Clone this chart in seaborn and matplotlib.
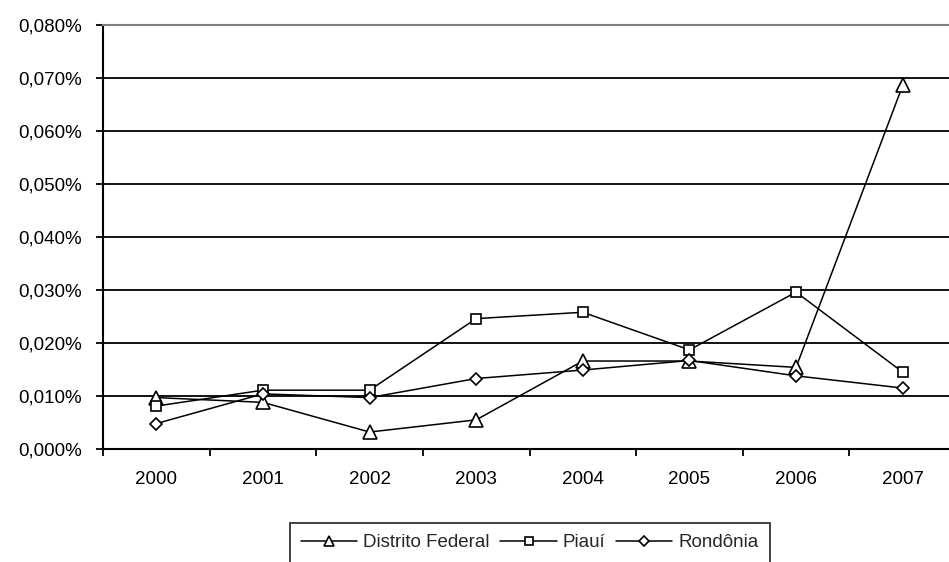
import matplotlib
matplotlib.use("Agg")
import matplotlib.pyplot as plt
import matplotlib.ticker as mticker
import numpy as np
import pandas as pd
import seaborn as sns

# Share of each state (in %) per year
anos = ["2000", "2001", "2002", "2003", "2004", "2005", "2006", "2007"]
estados = ["Distrito Federal", "Piauí", "Rondônia"]
distrito_federal = [0.0097, 0.0088, 0.0032, 0.0055, 0.0166, 0.0166, 0.0154, 0.0686]
piaui = [0.0081, 0.0111, 0.0111, 0.0246, 0.0258, 0.0187, 0.0296, 0.0145]
rondonia = [0.0048, 0.0104, 0.0097, 0.0133, 0.0149, 0.0167, 0.0138, 0.0115]
yticks = [0.0, 0.01, 0.02, 0.03, 0.04, 0.05, 0.06, 0.07, 0.08]

series = {"Distrito Federal": distrito_federal, "Piauí": piaui, "Rondônia": rondonia}
df = pd.DataFrame(
    [(i, v, nome) for nome in estados for i, v in enumerate(series[nome])],
    columns=["pos", "valor", "estado"],
)

sns.set_theme(style="white")
plt.rcParams["font.family"] = ["Liberation Sans", "DejaVu Sans"]
FS = 13.5

W, H = 949, 562
fig = plt.figure(figsize=(W / 100, H / 100), dpi=100)
left, right, top, bottom = 103, 956, 25, 449
ax = fig.add_axes([left / W, 1 - bottom / H, (right - left) / W, (bottom - top) / H])

sns.lineplot(
    data=df, x="pos", y="valor", hue="estado", style="estado",
    hue_order=estados, style_order=estados,
    palette=["black"] * 3, markers=["^", "s", "D"], dashes=False,
    linewidth=1.1, markersize=9, mfc="white", mec="black", mew=1.2,
    legend=False, ax=ax, zorder=3,
)
sizes = {0: 9.5, 1: 7.5, 2: 6.5}
for i, ln in enumerate(ax.get_lines()[:3]):
    ln.set_markerfacecolor("white")
    ln.set_markeredgecolor("black")
    ln.set_markersize(sizes[i])

ax.set_xlim(-0.5, len(anos) - 0.5)
ax.set_ylim(0, 0.08)

# horizontal grid lines
for y in yticks[1:-1]:
    ax.axhline(y, color="black", lw=1.3, zorder=1)

ax.set_yticks(yticks)
ax.yaxis.set_major_formatter(
    mticker.FuncFormatter(lambda v, _: f"{v:.3f}".replace(".", ",") + "%")
)
ax.set_xticks(np.arange(len(anos) + 1) - 0.5)
ax.set_xticklabels([])
ax.set_xticks(np.arange(len(anos)), minor=True)
ax.set_xticklabels(anos, minor=True)
ax.tick_params(axis="x", which="major", direction="out", length=5, width=1.3,
               color="black", bottom=True)
ax.tick_params(axis="x", which="minor", length=0, pad=16, labelsize=FS)
ax.tick_params(axis="y", direction="out", length=5, width=1.3, color="black",
               left=True, pad=10, labelsize=FS)
for lab in ax.get_yticklabels() + ax.get_xticklabels(minor=True):
    lab.set_color("black")
ax.set_xlabel("")
ax.set_ylabel("")

for s in ["left", "bottom"]:
    ax.spines[s].set_color("black")
    ax.spines[s].set_linewidth(1.5)
ax.spines["top"].set_color("#808080")
ax.spines["top"].set_linewidth(1.5)
ax.spines["right"].set_visible(False)

leg = ax.legend(
    ax.get_lines()[:3], estados, ncol=3,
    loc="upper center", bbox_to_anchor=(529.5 / W, 1 - 523 / H),
    bbox_transform=fig.transFigure, frameon=True, fancybox=False,
    edgecolor="black", fontsize=FS, handlelength=3.0, handletextpad=0.3,
    columnspacing=0.6, borderpad=0.6, borderaxespad=0,
)
leg.get_frame().set_linewidth(1.3)
leg_sizes = [6.5, 5.5, 5.0]
for h, ms in zip(leg.legend_handles, leg_sizes):
    h.set_markersize(ms)

fig.savefig("out.png", dpi=100, facecolor="white")
